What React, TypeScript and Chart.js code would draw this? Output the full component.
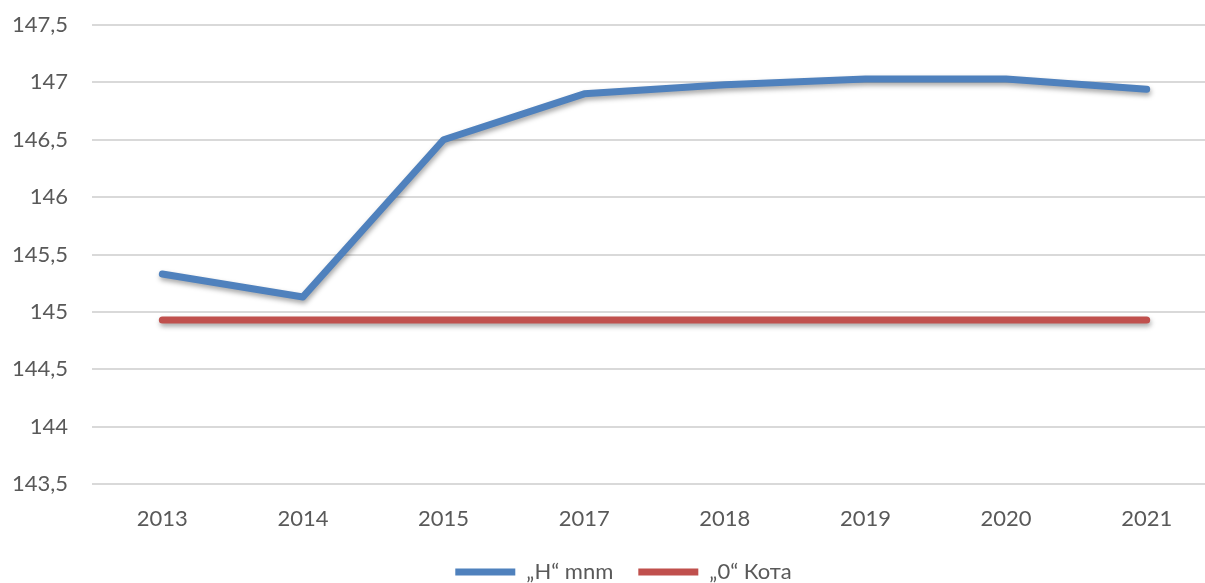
import React, { useEffect, useRef } from "react";
import { Chart, registerables } from "chart.js";

Chart.register(...registerables);

const years = ["2013", "2014", "2015", "2017", "2018", "2019", "2020", "2021"];
const hValues = [145.33, 145.13, 146.5, 146.9, 146.98, 147.03, 147.03, 146.94];
const zeroValues = [144.93, 144.93, 144.93, 144.93, 144.93, 144.93, 144.93, 144.93];
const seriesNames = ["\u201EH\u201C mnm", "\u201E0\u201C Кота"];

const FONT = "Lato, 'Open Sans', sans-serif";
const TEXT = "#595959";
const FS = 22;

const shadowPlugin = {
  id: "lineShadow",
  afterLayout(chart: any) {
    if (chart.legend) {
      chart.legend.left += 15;
      chart.legend.right += 15;
    }
  },
  beforeDatasetDraw(chart: any) {
    const ctx = chart.ctx;
    ctx.save();
    ctx.shadowColor = "rgba(0,0,0,0.35)";
    ctx.shadowBlur = 5;
    ctx.shadowOffsetX = 1;
    ctx.shadowOffsetY = 3;
  },
  afterDatasetDraw(chart: any) {
    chart.ctx.restore();
  },
};

export default function App() {
  const ref = useRef<HTMLCanvasElement | null>(null);
  useEffect(() => {
    if (!ref.current) return;
    const chart = new Chart(ref.current, {
      type: "line",
      data: {
        labels: years,
        datasets: [
          {
            label: seriesNames[0],
            data: hValues,
            borderColor: "#4F81BD",
            backgroundColor: "#4F81BD",
            borderWidth: 7,
            borderCapStyle: "round",
            borderJoinStyle: "round",
            pointRadius: 0,
            tension: 0,
          },
          {
            label: seriesNames[1],
            data: zeroValues,
            borderColor: "#C0504D",
            backgroundColor: "#C0504D",
            borderWidth: 7,
            borderCapStyle: "round",
            borderJoinStyle: "round",
            pointRadius: 0,
            tension: 0,
          },
        ],
      },
      options: {
        responsive: false,
        animation: false,
        layout: { padding: { top: 25, right: 31, left: 0, bottom: -10 } },
        plugins: {
          tooltip: { enabled: false },
          legend: {
            position: "bottom",
            labels: {
              usePointStyle: true,
              pointStyle: "line",
              pointStyleWidth: 60,
              color: TEXT,
              font: { family: FONT, size: FS },
              padding: 25,
            },
          },
        },
        scales: {
          x: {
            offset: true,
            grid: { display: false },
            border: { display: false },
            afterFit(scale: any) {
              scale.height = 52;
            },
            ticks: { color: TEXT, font: { family: FONT, size: FS }, padding: 14, maxRotation: 0 },
          },
          y: {
            min: 143.5,
            max: 147.5,
            border: { display: false },
            grid: { color: "#d9d9d9", lineWidth: 2, drawTicks: false },
            afterFit(scale: any) {
              scale.width = 92;
              scale.paddingTop = 0;
              scale.paddingBottom = 0;
            },
            ticks: {
              stepSize: 0.5,
              padding: 24,
              color: TEXT,
              font: { family: FONT, size: FS },
              callback: (v: any) => String(v).replace(".", ","),
            },
          },
        },
      },
      plugins: [shadowPlugin],
    } as any);
    return () => chart.destroy();
  }, []);
  return (
    <div style={{ position: "absolute", left: 0, top: 0, width: 1205, height: 583, overflow: "hidden", background: "#fff" }}>
      <canvas ref={ref} width={1248} height={583} style={{ display: "block" }} />
    </div>
  );
}
